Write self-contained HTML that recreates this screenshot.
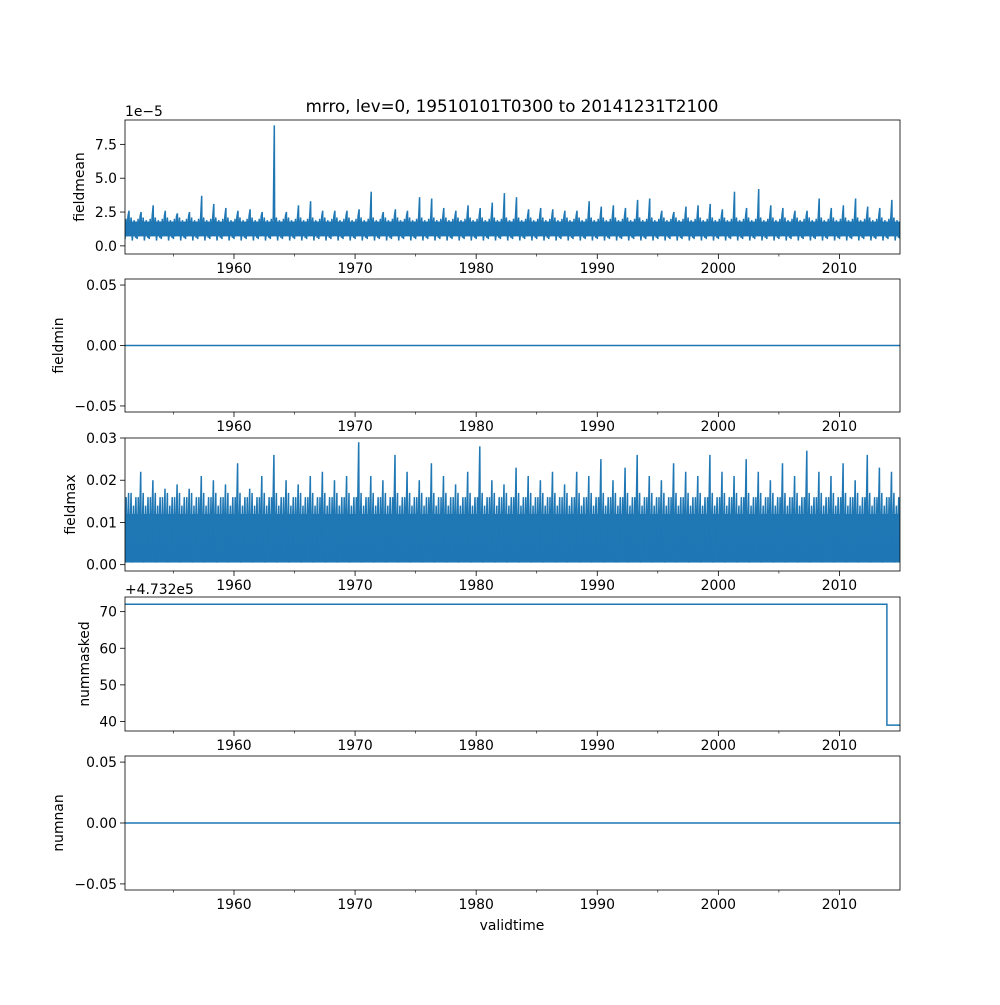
<!DOCTYPE html>
<html><head><meta charset="utf-8"><style>
body{margin:0;background:#fff}
svg text{font-family:"DejaVu Sans","Liberation Sans",sans-serif;font-size:13.9px;fill:#000}
</style></head><body>
<svg id="fig" width="1000" height="1000" viewBox="0 0 1000 1000" xmlns="http://www.w3.org/2000/svg">
<rect width="1000" height="1000" fill="#fff"/>
<text x="512" y="112" text-anchor="middle" style="font-size:16.7px">mrro, lev=0, 19510101T0300 to 20141231T2100</text>
<text x="512" y="930" text-anchor="middle">validtime</text>
</svg>
<script>
const years=[];for(let y=1951;y<=2014;y++)years.push(y);
const meanPeaks=[2.6,2.5,3.0,2.6,2.4,2.5,3.7,3.1,2.8,2.6,2.7,2.5,8.9,2.5,3.0,3.3,2.6,2.6,2.6,2.7,4.0,2.5,2.7,2.6,3.6,3.5,2.8,2.6,3.0,2.8,3.2,3.9,3.6,2.7,2.8,2.7,2.6,2.6,3.3,2.9,3.0,2.8,3.4,3.5,2.6,2.5,2.9,3.0,3.1,2.7,4.0,2.8,4.2,3.0,2.8,2.6,2.6,3.5,2.8,3.0,3.5,2.9,2.8,3.4];
const maxPeaks=[0.017,0.022,0.020,0.018,0.019,0.018,0.021,0.020,0.019,0.024,0.018,0.021,0.026,0.020,0.019,0.021,0.022,0.020,0.021,0.029,0.021,0.020,0.026,0.022,0.020,0.024,0.021,0.019,0.022,0.028,0.020,0.019,0.023,0.021,0.020,0.022,0.019,0.022,0.021,0.025,0.020,0.023,0.026,0.021,0.020,0.024,0.022,0.021,0.026,0.022,0.021,0.025,0.022,0.020,0.024,0.021,0.027,0.022,0.021,0.024,0.020,0.026,0.023,0.022];
const maskTimes=[1951,2013.92,2013.92,2015];
const maskVals=[72,72,39,39];
const xTicks=[1960,1970,1980,1990,2000,2010];
const xMinor=[1955,1965,1975,1985,1995,2005];
const C='#1f77b4';
const svg=document.getElementById('fig');
const NS='http://www.w3.org/2000/svg';
const X0=125,X1=900,T0=1951,T1=2015;
const sx=t=>X0+(t-T0)/(T1-T0)*(X1-X0);
function mk(tag,a,parent){const e=document.createElementNS(NS,tag);for(const k in a)e.setAttribute(k,a[k]);(parent||svg).appendChild(e);return e;}
const panels=[
 {name:'fieldmean',top:120,bot:254,y0:-0.6,y1:9.3,ticks:[0,2.5,5,7.5],lab:['0.0','2.5','5.0','7.5'],lx:84},
 {name:'fieldmin',top:279,bot:412,y0:-0.055,y1:0.055,ticks:[-0.05,0,0.05],lab:['−0.05','0.00','0.05'],lx:63},
 {name:'fieldmax',top:438,bot:571,y0:-0.0015,y1:0.030,ticks:[0,0.01,0.02,0.03],lab:['0.00','0.01','0.02','0.03'],lx:75},
 {name:'nummasked',top:597,bot:731,y0:37.4,y1:74,ticks:[40,50,60,70],lab:['40','50','60','70'],lx:89},
 {name:'numnan',top:756,bot:890,y0:-0.055,y1:0.055,ticks:[-0.05,0,0.05],lab:['−0.05','0.00','0.05'],lx:63}];
panels.forEach((p,i)=>{
 const g=mk('g',{});
 
 
 const sy=v=>p.bot-(v-p.y0)/(p.y1-p.y0)*(p.bot-p.top);
 const cp='cp'+i;
 const c=mk('clipPath',{id:cp},g);mk('rect',{x:X0,y:p.top,width:X1-X0,height:p.bot-p.top},c);
 const dg=mk('g',{'clip-path':'url(#'+cp+')'},g);
 if(i===0){
  let d='';
  years.forEach((y,k)=>{
   const pk=meanPeaks[k];
   const pts=[[0,0.5],[0.08,2.0],[0.14,0.7],[0.25,2.2],[0.33,pk],[0.36,0.8],[0.5,2.1],[0.6,0.4],[0.75,1.9],[0.88,0.6],[0.95,1.8],[1,0.5]];
   pts.forEach(([f,v],j)=>{d+=(k===0&&j===0?'M':'L')+sx(y+f).toFixed(1)+' '+sy(v).toFixed(1)+' ';});
  });
  const band=mk('rect',{x:X0,y:sy(1.8),width:X1-X0,height:sy(0.7)-sy(1.8),fill:C},dg);
  
  const l=mk('path',{d:d,fill:'none',stroke:C,'stroke-width':1.5},dg);
  
 } else if(i===2){
  const band=mk('rect',{x:X0,y:sy(0.012),width:X1-X0,height:sy(0.0005)-sy(0.012),fill:C},dg);
  
  let d='';
  years.forEach((y,k)=>{
   const pk=maxPeaks[k];
   const pts=[[0,0.001],[0.1,0.016],[0.15,0.002],[0.3,pk],[0.35,0.001],[0.5,0.017],[0.55,0.0005],[0.7,0.014],[0.75,0.002],[0.9,0.016],[1,0.001]];
   pts.forEach(([f,v],j)=>{d+=(k===0&&j===0?'M':'L')+sx(y+f).toFixed(1)+' '+sy(v).toFixed(1)+' ';});
  });
  const l=mk('path',{d:d,fill:'none',stroke:C,'stroke-width':1.5},dg);
  
 } else if(i===3){
  let d=maskTimes.map((t,j)=>(j?'L':'M')+sx(t).toFixed(1)+' '+sy(maskVals[j]).toFixed(1)).join(' ');
  const l=mk('path',{d:d,fill:'none',stroke:C,'stroke-width':1.5},dg);
  
 } else {
  const l=mk('line',{x1:X0,x2:X1,y1:sy(0),y2:sy(0),stroke:C,'stroke-width':1.5},dg);
  
 }
 const fr=mk('rect',{x:X0,y:p.top,width:X1-X0,height:p.bot-p.top,fill:'none',stroke:'#000','stroke-width':0.8},g);
 
 p.ticks.forEach((v,j)=>{
  const y=sy(v);
  mk('line',{x1:X0-5,x2:X0,y1:y,y2:y,stroke:'#000','stroke-width':0.8},g);
  const t=mk('text',{x:X0-8,y:y+5,'text-anchor':'end'},g);t.textContent=p.lab[j];
  
 });
 xTicks.forEach(v=>{
  const x=sx(v);
  mk('line',{x1:x,x2:x,y1:p.bot,y2:p.bot+5,stroke:'#000','stroke-width':0.8},g);
  const t=mk('text',{x:x,y:p.bot+19,'text-anchor':'middle'},g);t.textContent=v;
  
 });
 xMinor.forEach(v=>{const x=sx(v);mk('line',{x1:x,x2:x,y1:p.bot,y2:p.bot+2.5,stroke:'#000','stroke-width':0.6},g);});
 const yl=mk('text',{x:p.lx,y:(p.top+p.bot)/2,'text-anchor':'middle',transform:'rotate(-90 '+p.lx+' '+(p.top+p.bot)/2+')'},g);
 yl.textContent=p.name;
 
});
const o1=mk('text',{x:125,y:116});o1.textContent='1e−5';

const o2=mk('text',{x:125,y:594});o2.textContent='+4.732e5';

</script>
</body></html>
